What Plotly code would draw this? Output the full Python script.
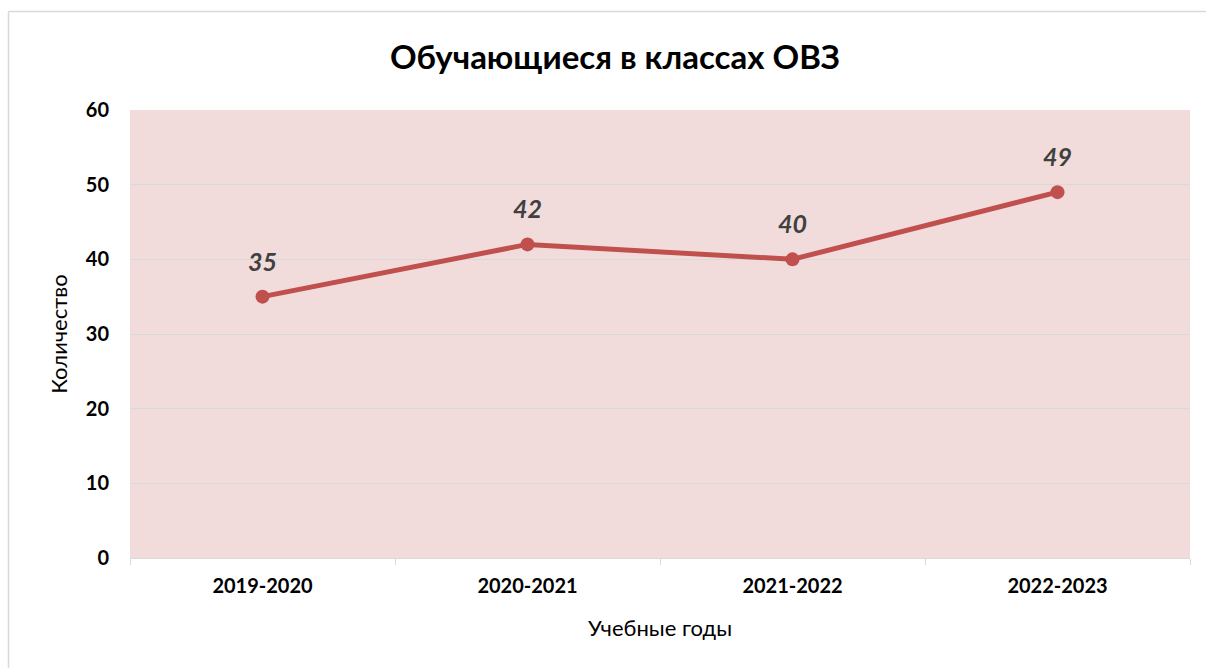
import plotly.graph_objects as go

years = ["2019-2020", "2020-2021", "2021-2022", "2022-2023"]
counts = [35, 42, 40, 49]
title_text = "Обучающиеся в классах ОВЗ"
x_title = "Учебные годы"
y_title = "Количество"

W, H = 1206, 668
L, T = 130, 110
R = W - 1190
B = H - 558
pw, ph = W - L - R, H - T - B

def px_x(p):
    return (p - L) / pw

def px_y(p):
    return (H - B - p) / ph

FONT = "Lato, 'Open Sans', sans-serif"

fig = go.Figure()
fig.add_trace(go.Scatter(
    x=years, y=counts, mode="lines+markers",
    line=dict(color="#c0504d", width=5),
    marker=dict(color="#c0504d", size=14),
    hoverinfo="skip", showlegend=False,
))

annotations = []
for xv, yv in zip(years, counts):
    annotations.append(dict(
        x=xv, y=yv, xref="x", yref="y", text=f"<b><i>{yv}</i></b>",
        showarrow=False, yshift=36,
        font=dict(family=FONT, size=25, color="#404040"),
    ))

border = dict(color="#d9d9d9", width=1.5)

fig.update_layout(
    width=W, height=H,
    margin=dict(l=L, r=R, t=T, b=B),
    paper_bgcolor="white",
    plot_bgcolor="#f2dcdb",
    title=dict(text=f"<b>{title_text}</b>", x=615 / W, xanchor="center",
               y=1 - 57 / H, yanchor="middle",
               font=dict(family=FONT, size=33, color="black")),
    font=dict(family=FONT),
    annotations=annotations,
    xaxis=dict(
        type="category", tickson="boundaries",
        ticks="outside", ticklen=6, tickcolor="#d9d9d9", tickwidth=1,
        showline=True, linecolor="#d9d9d9", linewidth=1,
        showgrid=False, zeroline=False,
        ticklabelstandoff=10,
        tickfont=dict(family=FONT, size=20, color="black", weight="bold"),
        title=dict(text=x_title, font=dict(family=FONT, size=22, color="black"),
                   standoff=24),
        range=[-0.5, 3.5],
    ),
    yaxis=dict(
        range=[0, 60], dtick=10,
        showgrid=True, gridcolor="#d9d9d9", gridwidth=1,
        zeroline=False, showline=False,
        ticks="", ticklabelstandoff=20,
        tickfont=dict(family=FONT, size=20, color="black", weight="bold"),
        title=dict(text=y_title, font=dict(family=FONT, size=22, color="black"),
                   standoff=12),
    ),
    shapes=[
        dict(type="line", xref="paper", yref="paper",
             x0=px_x(8.5), x1=px_x(8.5), y0=px_y(700), y1=px_y(11.5),
             line=border, layer="below"),
        dict(type="line", xref="paper", yref="paper",
             x0=px_x(8.5), x1=px_x(1230), y0=px_y(11.5), y1=px_y(11.5),
             line=border, layer="below"),
    ],
)

fig.write_html(
    "out.html",
    config={"displayModeBar": False},
    post_script=(
        "document.documentElement.style.overflow='hidden';"
        "document.body.style.margin='0';document.body.style.overflow='hidden';"
    ),
)
